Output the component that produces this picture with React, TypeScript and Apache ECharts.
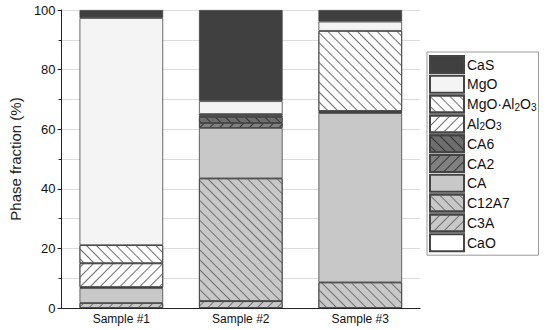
import React, { useEffect, useRef } from "react";
import * as echarts from "echarts";

const categories = ["Sample #1", "Sample #2", "Sample #3"];
const phaseNames = ["CaO", "C3A", "C12A7", "CA", "CA2", "CA6", "Al2O3", "MgO·Al2O3", "MgO", "CaS"];
const CaO: (number | null)[] = [null, null, null];
const C3A: (number | null)[] = [1.7, 2.3, null];
const C12A7: (number | null)[] = [null, 41.2, 8.6];
const CA: (number | null)[] = [5.0, 16.9, 56.8];
const CA2: (number | null)[] = [null, 1.7, null];
const CA6: (number | null)[] = [0.3, 2.0, 0.4];
const Al2O3: (number | null)[] = [8.0, 0.5, 0.3];
const MgOAl2O3: (number | null)[] = [6.1, 0.5, 26.9];
const MgO: (number | null)[] = [76.2, 4.3, 3.1];
const CaS: (number | null)[] = [2.7, 30.6, 3.9];
const seriesValues = [CaO, C3A, C12A7, CA, CA2, CA6, Al2O3, MgOAl2O3, MgO, CaS];
const legendLabels: Record<string, string> = {
  "Al2O3": "Al{s|2}O{s|3}",
  "MgO·Al2O3": "MgO·Al{s|2}O{s|3}",
};

// dir 1 => "/" , dir -1 => "\"
const hatch = (dir: 1 | -1, color = "#707070") => ({
  symbol: "rect",
  symbolSize: 1,
  color,
  dashArrayX: [1, 0],
  dashArrayY: [0.8, 5.5],
  rotation: (-dir * Math.PI) / 4,
});

const styles: Record<string, any> = {
  CaO: { color: "#ffffff" },
  C3A: { color: "#c8c8c8", decal: hatch(1) },
  C12A7: { color: "#c8c8c8", decal: hatch(-1) },
  CA: { color: "#c8c8c8" },
  CA2: { color: "#808080", decal: hatch(1, "#333") },
  CA6: { color: "#6e6e6e", decal: hatch(-1, "#333") },
  Al2O3: { color: "#ffffff", decal: hatch(1) },
  "MgO·Al2O3": { color: "#ffffff", decal: hatch(-1) },
  MgO: { color: "#f4f4f4" },
  CaS: { color: "#404040" },
};

export default function App() {
  const ref = useRef<HTMLDivElement>(null);
  useEffect(() => {
    document.body.style.margin = "0";
    if (!ref.current) return;
    const chart = echarts.init(ref.current, null, { renderer: "svg" });
    const font = "'Liberation Sans', Arial, sans-serif";
    chart.setOption({
      animation: false,
      textStyle: { fontFamily: font },
      grid: { left: 50, right: 130, top: 10, bottom: 22 },
      legend: {
        orient: "vertical",
        left: 427,
        top: 52,
        data: [...phaseNames].reverse(),
        icon: "rect",
        itemWidth: 34,
        itemHeight: 17,
        itemGap: 0.8,
        padding: [3, 2, 3, 2],
        borderColor: "#999",
        borderWidth: 1,
        borderRadius: 0,
        formatter: (name: string) => legendLabels[name] || name,
        textStyle: {
          fontSize: 14,
          lineHeight: 17,
          color: "#111",
          fontFamily: font,
          padding: [0, 0, 0, -2],
          rich: {
            s: { fontSize: 10, lineHeight: 10, fontFamily: font, color: "#111", padding: [6, 0, 0, 0] },
          },
        },
      },
      xAxis: {
        type: "category",
        data: categories,
        axisLine: { lineStyle: { color: "#222", width: 1 } },
        axisTick: { show: false },
        axisLabel: { fontSize: 12, color: "#111", margin: 5, fontFamily: font },
      },
      yAxis: {
        type: "value",
        min: 0,
        max: 100,
        interval: 20,
        name: "Phase fraction (%)",
        nameLocation: "middle",
        nameGap: 35,
        nameTextStyle: { fontSize: 15, color: "#222", fontFamily: font },
        axisLine: { show: true, lineStyle: { color: "#222", width: 1 } },
        axisTick: { show: true, length: 4, lineStyle: { color: "#222" } },
        minorTick: { show: true, splitNumber: 2, length: 3, lineStyle: { color: "#222" } },
        splitLine: { show: true, lineStyle: { color: "#dcdcdc", width: 1 } },
        minorSplitLine: { show: true, lineStyle: { color: "#dcdcdc", width: 1 } },
        axisLabel: { fontSize: 13, color: "#111", margin: 6, fontFamily: font },
      },
      series: phaseNames.map((name, i) => ({
        name,
        type: "bar",
        stack: "total",
        barWidth: "70%",
        data: seriesValues[i].map((v) => (v == null ? "-" : v)),
        itemStyle: { ...styles[name], borderColor: "#444", borderWidth: 0.8 },
        emphasis: { disabled: true },
      })),
    });
    return () => chart.dispose();
  }, []);
  return <div ref={ref} style={{ width: 550, height: 330 }} />;
}
